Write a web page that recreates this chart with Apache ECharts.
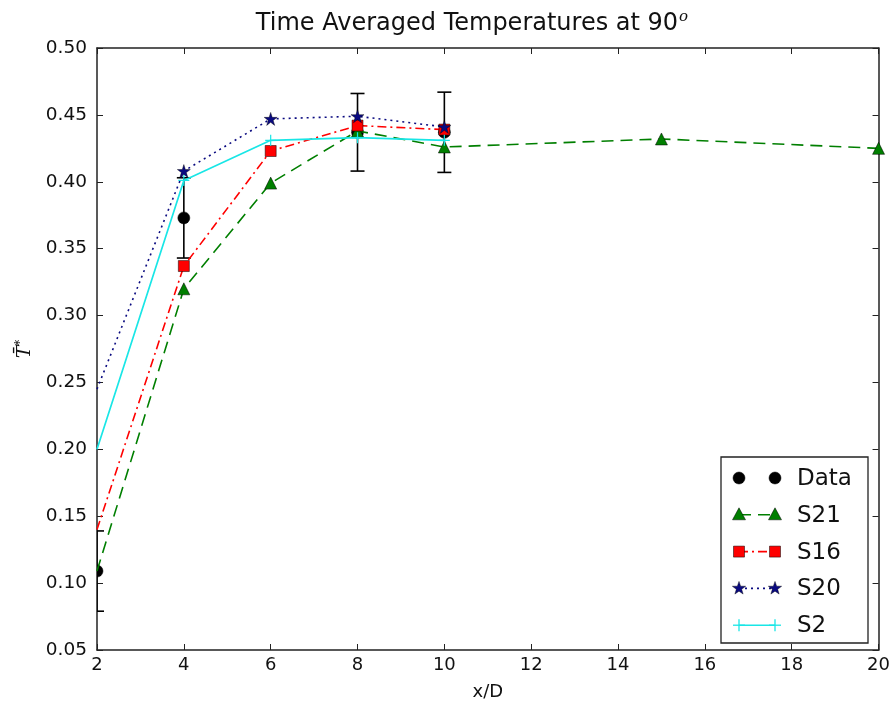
<!DOCTYPE html>
<html>
<head>
<meta charset="utf-8">
<script src="https://cdn.jsdelivr.net/npm/echarts@6/dist/echarts.min.js"></script>
<style>
html,body{margin:0;padding:0;background:#fff;}
#c{width:893px;height:706px;}
</style>
</head>
<body>
<div id="c"></div>
<script>
// ---- data ----
const dataX = [2, 4, 8, 10];
const dataY = [0.109, 0.373, 0.437, 0.437];
const dataErr = [0.030, 0.030, 0.029, 0.030];

const s21X = [2, 4, 6, 8, 10, 15, 20];
const s21Y = [0.109, 0.320, 0.399, 0.438, 0.426, 0.432, 0.425];

const simX = [2, 4, 6, 8, 10];
const s16Y = [0.140, 0.337, 0.423, 0.442, 0.439];
const s20Y = [0.245, 0.408, 0.447, 0.449, 0.441];
const s2Y  = [0.200, 0.401, 0.431, 0.433, 0.431];

const xTicks = [2, 4, 6, 8, 10, 12, 14, 16, 18, 20];
const yTicks = [0.05, 0.10, 0.15, 0.20, 0.25, 0.30, 0.35, 0.40, 0.45, 0.50];

const seriesNames = ['Data', 'S21', 'S16', 'S20', 'S2'];

// ---- styles ----
const FONT = 'DejaVu Sans';
const C_GREEN = '#007f00', C_RED = '#ff0000', C_NAVY = '#0a0a80', C_CYAN = '#19e6e6';
const STAR = 'path://M50,0 L61.2,34.5 L97.6,34.5 L68.2,55.9 L79.4,90.5 L50,69.1 L20.6,90.5 L31.8,55.9 L2.4,34.5 L38.8,34.5 Z';
const PLUS = 'path://M0,50 L100,50 M50,0 L50,100';
const DASH = [12, 7], DASHDOT = [9, 4, 2, 4], DOT = [2, 4];

// the simulation curves enter the axes at x=2 without a visible marker there
const zipNoFirstMark = (xs, ys) => xs.map((x, i) => i === 0 && x === 2 ? {value: [x, ys[i]], symbol: 'none'} : [x, ys[i]]);

const chart = echarts.init(document.getElementById('c'), null, {renderer: 'canvas'});

const axisLine = {show: true, lineStyle: {color: '#222', width: 1.5}};
const tickIn = {show: true, inside: true, length: 6, lineStyle: {color: '#222', width: 1}};

function starPoints(cx, cy, R) {
  const r = R * 0.4, pts = [];
  for (let i = 0; i < 10; i++) {
    const a = -Math.PI / 2 + i * Math.PI / 5;
    const rr = i % 2 === 0 ? R : r;
    pts.push([cx + rr * Math.cos(a), cy + rr * Math.sin(a)]);
  }
  return pts;
}

// legend built as graphics (two markers with a line between, like the reference)
const LG = {x: 721, y: 457, w: 147, h: 186, row0: 478, dy: 36.8, m1: 739, m2: 775, tx: 797};
const legendStyles = {
  Data: {line: null, marker: 'circle', color: '#000'},
  S21: {line: {stroke: C_GREEN, lineDash: DASH}, marker: 'tri', color: C_GREEN},
  S16: {line: {stroke: C_RED, lineDash: DASHDOT}, marker: 'sq', color: C_RED},
  S20: {line: {stroke: C_NAVY, lineDash: DOT}, marker: 'star', color: C_NAVY},
  S2:  {line: {stroke: C_CYAN}, marker: 'plus', color: C_CYAN}
};
function markerGraphic(kind, cx, cy, color) {
  if (kind === 'circle') return {type: 'circle', shape: {cx, cy, r: 6}, style: {fill: color, stroke: '#000', lineWidth: 0.5}};
  if (kind === 'tri') return {type: 'polygon', shape: {points: [[cx, cy - 7], [cx + 6.5, cy + 5], [cx - 6.5, cy + 5]]}, style: {fill: color, stroke: '#000', lineWidth: 0.5}};
  if (kind === 'sq') return {type: 'rect', shape: {x: cx - 5.5, y: cy - 5.5, width: 11, height: 11}, style: {fill: color, stroke: '#000', lineWidth: 0.5}};
  if (kind === 'star') return {type: 'polygon', shape: {points: starPoints(cx, cy, 7)}, style: {fill: color, stroke: '#000', lineWidth: 0.4}};
  return {type: 'group', children: [
    {type: 'line', shape: {x1: cx - 6, y1: cy, x2: cx + 6, y2: cy}, style: {stroke: color, lineWidth: 1.3}},
    {type: 'line', shape: {x1: cx, y1: cy - 6, x2: cx, y2: cy + 6}, style: {stroke: color, lineWidth: 1.3}}
  ]};
}
const legendChildren = [{type: 'rect', shape: {x: LG.x, y: LG.y, width: LG.w, height: LG.h}, style: {fill: '#fff', stroke: '#222', lineWidth: 1.3}}];
seriesNames.forEach((name, i) => {
  const st = legendStyles[name];
  const cy = LG.row0 + i * LG.dy;
  if (st.line) legendChildren.push({type: 'line', shape: {x1: LG.m1, y1: cy, x2: LG.m2, y2: cy}, style: Object.assign({lineWidth: 1.6}, st.line)});
  legendChildren.push(markerGraphic(st.marker, LG.m1, cy, st.color));
  legendChildren.push(markerGraphic(st.marker, LG.m2, cy, st.color));
  legendChildren.push({type: 'text', x: LG.tx, y: cy + 1, style: {text: name, font: '23px "DejaVu Sans"', fill: '#111', verticalAlign: 'middle', align: 'left'}});
});

const option = {
  backgroundColor: '#fff',
  animation: false,
  title: {
    text: '{a|Time Averaged Temperatures at 90}{b|o}',
    left: 467, top: 5, textAlign: 'center',
    textStyle: {
      rich: {
        a: {fontFamily: FONT, fontSize: 24, fontWeight: 'normal', color: '#111'},
        b: {fontFamily: 'DejaVu Serif', fontStyle: 'italic', fontWeight: 'normal', fontSize: 15, color: '#111', padding: [0, 0, 13, 1]}
      }
    }
  },
  grid: {left: 97, right: 13, top: 48, bottom: 49, containLabel: false},
  xAxis: [
    {
      type: 'value', min: 2, max: 20, interval: 2, position: 'bottom',
      name: 'x/D', nameLocation: 'middle', nameGap: 33,
      nameTextStyle: {fontFamily: FONT, fontSize: 18, color: '#111'},
      axisLine, axisTick: tickIn, splitLine: {show: false},
      axisLabel: {fontFamily: FONT, fontSize: 18, color: '#111', margin: 6,
        formatter: v => xTicks.includes(v) ? String(v) : ''}
    },
    {
      type: 'value', min: 2, max: 20, interval: 2, position: 'top',
      axisLine, axisTick: tickIn, splitLine: {show: false}, axisLabel: {show: false}
    }
  ],
  yAxis: [
    {
      type: 'value', min: 0.05, max: 0.5, interval: 0.05, position: 'left',
      name: '{t|T̄}{s|*}', nameLocation: 'middle', nameGap: 54, nameRotate: 90,
      nameTextStyle: {rich: {
        t: {fontFamily: 'DejaVu Serif', fontStyle: 'italic', fontSize: 19, color: '#111'},
        s: {fontFamily: 'DejaVu Serif', fontSize: 12, color: '#111', padding: [0, 0, 10, 0]}
      }},
      axisLine, axisTick: tickIn, splitLine: {show: false},
      axisLabel: {fontFamily: FONT, fontSize: 18.5, color: '#111', margin: 10,
        formatter: v => v.toFixed(2)}
    },
    {
      type: 'value', min: 0.05, max: 0.5, interval: 0.05, position: 'right',
      axisLine, axisTick: tickIn, splitLine: {show: false}, axisLabel: {show: false}
    }
  ],
  graphic: [{type: 'group', children: legendChildren, z: 100}],
  series: [
    {
      name: 'Data', type: 'custom', z: 3,
      data: dataX.map((x, i) => [x, dataY[i], dataErr[i]]),
      clip: true,
      renderItem: (params, api) => {
        const x = api.value(0), y = api.value(1), e = api.value(2);
        const c = api.coord([x, y]);
        const top = api.coord([x, y + e]), bot = api.coord([x, y - e]);
        const cap = 7;
        const s = {stroke: '#000', lineWidth: 1.6};
        return {type: 'group', children: [
          {type: 'line', shape: {x1: top[0], y1: top[1], x2: bot[0], y2: bot[1]}, style: s},
          {type: 'line', shape: {x1: top[0] - cap, y1: top[1], x2: top[0] + cap, y2: top[1]}, style: s},
          {type: 'line', shape: {x1: bot[0] - cap, y1: bot[1], x2: bot[0] + cap, y2: bot[1]}, style: s},
          {type: 'circle', shape: {cx: c[0], cy: c[1], r: 6}, style: {fill: '#000', stroke: '#000', lineWidth: 0.5}}
        ]};
      }
    },
    {
      name: 'S21', type: 'line', z: 5, data: zipNoFirstMark(s21X, s21Y),
      symbol: 'triangle', symbolSize: 12, showAllSymbol: true,
      lineStyle: {color: C_GREEN, width: 1.6, type: DASH},
      itemStyle: {color: C_GREEN, borderColor: '#000', borderWidth: 0.5}
    },
    {
      name: 'S16', type: 'line', z: 6, data: zipNoFirstMark(simX, s16Y),
      symbol: 'rect', symbolSize: 11, showAllSymbol: true,
      lineStyle: {color: C_RED, width: 1.6, type: DASHDOT},
      itemStyle: {color: C_RED, borderColor: '#000', borderWidth: 0.5}
    },
    {
      name: 'S20', type: 'line', z: 7, data: zipNoFirstMark(simX, s20Y),
      symbol: STAR, symbolSize: 13, showAllSymbol: true,
      lineStyle: {color: C_NAVY, width: 1.6, type: DOT},
      itemStyle: {color: C_NAVY, borderColor: '#000', borderWidth: 0.4}
    },
    {
      name: 'S2', type: 'line', z: 8, data: zipNoFirstMark(simX, s2Y),
      symbol: PLUS, symbolSize: 11, showAllSymbol: true,
      lineStyle: {color: C_CYAN, width: 1.7},
      itemStyle: {color: C_CYAN, borderColor: C_CYAN, borderWidth: 1.2}
    }
  ]
};
chart.setOption(option);
</script>
</body>
</html>
